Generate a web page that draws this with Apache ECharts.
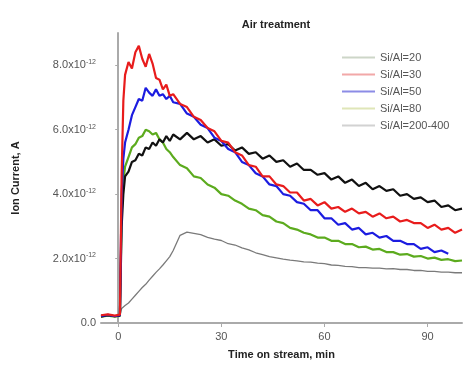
<!DOCTYPE html>
<html><head><meta charset="utf-8">
<script src="https://cdn.jsdelivr.net/npm/echarts@6/dist/echarts.min.js"></script>
<style>html,body{margin:0;padding:0;background:#fff}#c{width:471px;height:367px}</style>
</head><body><div id="c"></div>
<script>
const time = [-5,-3,-1,0.5,1,1.5,2,3,4,5,6,7,8,9,10,11,12,13,14,15,
16,18,20,22,24,26,28,30,32,34,36,38,40,42,44,46,48,50,52,54,56,58,60,62,64,66,68,70,72,74,76,78,80,82,84,86,88,90,92,94,96,98,100];
const xTicks = [0,30,60,90];
const yTicks = [0,2,4,6,8];
const seriesNames = ['Si/Al=20','Si/Al=30','Si/Al=50','Si/Al=80','Si/Al=200-400'];
// values in units of 1e-12 A
const si20 = [0.2,0.24,0.21,0.23,3.0,4.0,4.55,4.7,5.0,5.05,5.25,5.2,5.45,5.4,5.6,5.5,5.7,5.6,5.8,5.65,
5.85,5.7,5.9,5.7,5.8,5.6,5.7,5.5,5.55,5.35,5.45,5.25,5.3,5.1,5.2,5.0,5.05,4.85,4.95,4.75,4.75,4.6,4.65,4.45,4.55,4.35,4.45,4.25,4.35,4.15,4.25,4.1,4.15,3.95,4.0,3.85,3.9,3.75,3.8,3.6,3.65,3.5,3.55];
const si30 = [0.24,0.27,0.23,0.26,4.6,6.9,7.7,8.1,7.9,8.4,8.6,8.2,7.95,8.35,8.05,7.6,7.55,7.25,7.4,7.05,
7.1,6.8,6.7,6.4,6.3,6.05,5.95,5.65,5.6,5.3,5.2,4.9,4.85,4.55,4.55,4.3,4.25,4.05,4.05,3.8,3.85,3.65,3.75,3.55,3.6,3.45,3.55,3.4,3.45,3.3,3.4,3.25,3.3,3.15,3.2,3.1,3.1,2.95,3.05,2.9,2.95,2.8,2.9];
const si50 = [0.22,0.25,0.21,0.24,4.0,5.1,5.6,6.0,6.45,6.7,6.95,6.9,7.3,7.15,7.05,7.25,7.05,7.1,6.95,7.05,
6.85,6.8,6.5,6.4,6.15,6.05,5.75,5.65,5.4,5.3,5.0,4.9,4.65,4.55,4.3,4.25,4.0,3.95,3.75,3.7,3.5,3.5,3.25,3.25,3.05,3.1,2.9,2.95,2.75,2.8,2.65,2.7,2.55,2.55,2.45,2.45,2.3,2.35,2.2,2.25,2.15,null,null];
const si80 = [0.2,0.23,0.2,0.22,3.4,4.4,4.85,5.15,5.45,5.55,5.75,5.8,6.0,5.95,5.85,5.9,5.7,5.6,5.4,5.3,
5.15,4.9,4.8,4.55,4.5,4.3,4.2,4.0,3.95,3.8,3.7,3.55,3.5,3.35,3.3,3.15,3.1,2.95,2.9,2.8,2.75,2.65,2.65,2.55,2.55,2.45,2.45,2.35,2.37,2.28,2.3,2.2,2.2,2.12,2.14,2.06,2.08,2.0,2.03,1.96,1.98,1.92,1.94];
const si200 = [0.22,0.24,0.22,0.24,0.45,0.5,0.54,0.62,0.74,0.86,0.98,1.1,1.2,1.33,1.45,1.57,1.68,1.8,1.93,2.06,
2.25,2.72,2.82,2.78,2.74,2.66,2.6,2.56,2.46,2.42,2.33,2.27,2.18,2.12,2.06,2.02,1.98,1.95,1.93,1.9,1.89,1.86,1.84,1.8,1.79,1.76,1.75,1.72,1.72,1.7,1.7,1.68,1.69,1.66,1.66,1.63,1.63,1.6,1.6,1.58,1.58,1.56,1.56];

const colors = ['#111111','#e81c1c','#1c1ce0','#5cab1e','#7a7a7a'];
const legendColors = ['#cdd6c8','#f2a8a8','#8c8ce6','#dfe6b8','#d2d2d2'];
const allData = [si20,si30,si50,si80,si200];
const widths = [2.2,2.2,2.2,2.2,1.3];
const order = [4,3,0,2,1];

const chart = echarts.init(document.getElementById('c'));
const series = order.map(k => ({
  name: seriesNames[k], type: 'line', showSymbol: false, connectNulls: false,
  data: time.map((t,i) => [t, allData[k][i]]),
  lineStyle: {color: colors[k], width: widths[k]}, itemStyle: {color: colors[k]}, z: 2
}));
chart.setOption({
  animation: false,
  title: {text: 'Air treatment', left: 271, top: 14, textAlign: 'center',
    textStyle: {fontFamily: 'Liberation Sans', fontSize: 11, fontWeight: 'bold', color: '#222'}},
  legend: {orient: 'vertical', left: 337, top: 46, itemWidth: 33, itemHeight: 2, itemGap: 4, icon: 'rect',
    textStyle: {fontFamily: 'Liberation Sans', fontSize: 11, color: '#555', lineHeight: 13},
    data: seriesNames.map((n,k) => ({name: n, itemStyle: {color: legendColors[k]}}))},
  grid: {left: 101, right: 9, top: 33, bottom: 44},
  xAxis: {type: 'value', min: -5, max: 100,
    name: 'Time on stream, min', nameLocation: 'middle', nameGap: 26,
    nameTextStyle: {fontFamily: 'Liberation Sans', fontSize: 11, fontWeight: 'bold', color: '#222'},
    axisLine: {show: true, onZero: false, lineStyle: {color: '#aaa', width: 2}},
    axisTick: {show: true, customValues: xTicks, length: 4, lineStyle: {color: '#aaa'}},
    axisLabel: {customValues: xTicks, margin: 8, fontFamily: 'Liberation Sans', fontSize: 11, color: '#555'},
    splitLine: {show: false}},
  yAxis: {type: 'value', min: 0, max: 9,
    name: 'Ion Current, A', nameLocation: 'middle', nameGap: 80, nameRotate: 90,
    nameTextStyle: {fontFamily: 'Liberation Sans', fontSize: 11, fontWeight: 'bold', color: '#222'},
    axisLine: {show: true, lineStyle: {color: '#aaa', width: 2}},
    axisTick: {show: true, customValues: yTicks, length: 3, lineStyle: {color: '#aaa'}},
    axisLabel: {customValues: yTicks, margin: 5, fontFamily: 'Liberation Sans', fontSize: 11, color: '#555',
      formatter: v => v === 0 ? '0.0' : '{b|' + v.toFixed(1) + 'x10}{s|-12}',
      rich: {b: {fontFamily: 'Liberation Sans', fontSize: 11, color: '#555'},
             s: {fontFamily: 'Liberation Sans', fontSize: 7, color: '#555', verticalAlign: 'top', padding: [0,0,6,0]}}},
    splitLine: {show: false}},
  series: series
});
</script></body></html>
